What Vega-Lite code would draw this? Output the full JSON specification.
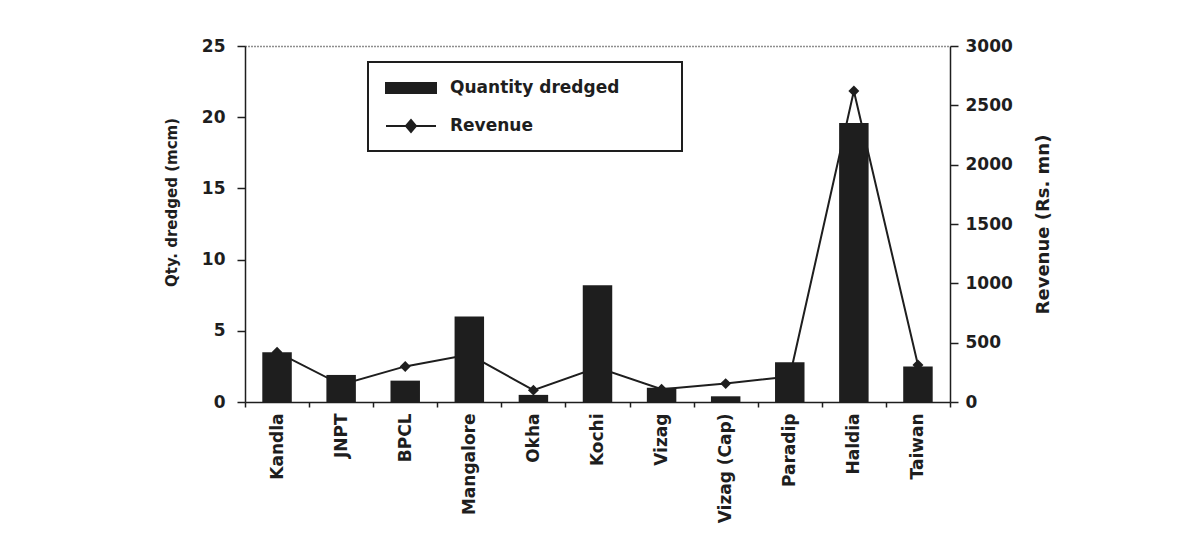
{
  "$schema": "https://vega.github.io/schema/vega-lite/v6.json",
  "width": 705,
  "height": 356,
  "autosize": {"type": "none"},
  "padding": {"left": 245, "top": 46, "right": 235, "bottom": 149},
  "background": "white",
  "config": {
    "font": "DejaVu Sans",
    "view": {"stroke": null},
    "axis": {
      "labelFont": "DejaVu Sans",
      "labelFontWeight": "bold",
      "labelFontSize": 17,
      "labelColor": "#1e1e1e",
      "titleFont": "DejaVu Sans",
      "titleFontWeight": "bold",
      "titleFontSize": 15,
      "titleColor": "#1e1e1e",
      "domainColor": "#1e1e1e",
      "domainWidth": 1.5,
      "tickColor": "#1e1e1e",
      "tickWidth": 1.5
    },
    "legend": {"strokeWidth": 2}
  },
  "data": {
    "values": [
      {"port": "Kandla", "qty": 3.5, "revenue": 420},
      {"port": "JNPT", "qty": 1.9, "revenue": 145},
      {"port": "BPCL", "qty": 1.5, "revenue": 300},
      {"port": "Mangalore", "qty": 6.0, "revenue": 400},
      {"port": "Okha", "qty": 0.5, "revenue": 100},
      {"port": "Kochi", "qty": 8.2, "revenue": 290},
      {"port": "Vizag", "qty": 1.0, "revenue": 108},
      {"port": "Vizag (Cap)", "qty": 0.4, "revenue": 155},
      {"port": "Paradip", "qty": 2.8, "revenue": 215},
      {"port": "Haldia", "qty": 19.6, "revenue": 2620},
      {"port": "Taiwan", "qty": 2.5, "revenue": 312}
    ]
  },
  "encoding": {
    "x": {
      "field": "port",
      "type": "nominal",
      "sort": null,
      "scale": {"paddingInner": 0, "paddingOuter": 0},
      "axis": {
        "title": null,
        "labelAngle": -90,
        "tickBand": "extent",
        "tickSize": 5,
        "labelPadding": 6
      }
    }
  },
  "layer": [
    {
      "mark": {
        "type": "line",
        "strokeWidth": 2,
        "point": {"shape": "diamond", "size": 120, "filled": true}
      },
      "encoding": {
        "y": {
          "field": "revenue",
          "type": "quantitative",
          "scale": {"domain": [0, 3000], "nice": false},
          "axis": {
            "orient": "right",
            "title": "Revenue (Rs. mn)",
            "titleAngle": 270,
            "titleFontSize": 18,
            "format": "d",
            "values": [0, 500, 1000, 1500, 2000, 2500, 3000],
            "grid": false,
            "tickSize": 8,
            "labelPadding": 7,
            "titlePadding": 40
          }
        },
        "color": {"datum": "Revenue"}
      }
    },
    {
      "mark": {"type": "bar", "width": {"band": 0.46}},
      "encoding": {
        "y": {
          "field": "qty",
          "type": "quantitative",
          "scale": {"domain": [0, 25], "nice": false},
          "axis": {
            "orient": "left",
            "title": "Qty. dredged (mcm)",
            "titleY": 156,
            "values": [0, 5, 10, 15, 20, 25],
            "tickSize": 8,
            "labelPadding": 12,
            "titlePadding": 22,
            "grid": true,
            "gridColor": "#1e1e1e",
            "gridDash": [1, 2],
            "gridWidth": 1.5,
            "gridOpacity": {"condition": {"test": "datum.value === 25", "value": 1}, "value": 0}
          }
        },
        "color": {
          "datum": "Quantity dredged",
          "scale": {"domain": ["Quantity dredged", "Revenue"], "range": ["#1e1e1e", "#1e1e1e"]},
          "legend": {
            "title": null,
            "orient": "none",
            "legendX": 123,
            "legendY": 16,
            "direction": "vertical",
            "strokeColor": "#1e1e1e",
            "fillColor": "white",
            "padding": 15,
            "labelFont": "DejaVu Sans",
            "labelFontWeight": "bold",
            "labelFontSize": 17,
            "labelColor": "#1e1e1e",
            "labelLimit": 500,
            "symbolSize": 400,
            "symbolType": {"expr": "datum.value === 'Revenue' ? 'M-0.8,0L4.2,0M1.2,0L1.7,-0.6L2.2,0L1.7,0.6Z' : 'M-0.8,-0.5L4.2,-0.5L4.2,0.5L-0.8,0.5Z'"},
            "symbolFillColor": "#1e1e1e",
            "symbolStrokeColor": "#1e1e1e",
            "symbolStrokeWidth": 2,
            "symbolOpacity": 1,
            "labelOffset": 45,
            "rowPadding": 18,
            "labelExpr": "datum.label + '        \u200b'"
          }
        }
      }
    }
  ],
  "resolve": {"scale": {"y": "independent"}}
}
